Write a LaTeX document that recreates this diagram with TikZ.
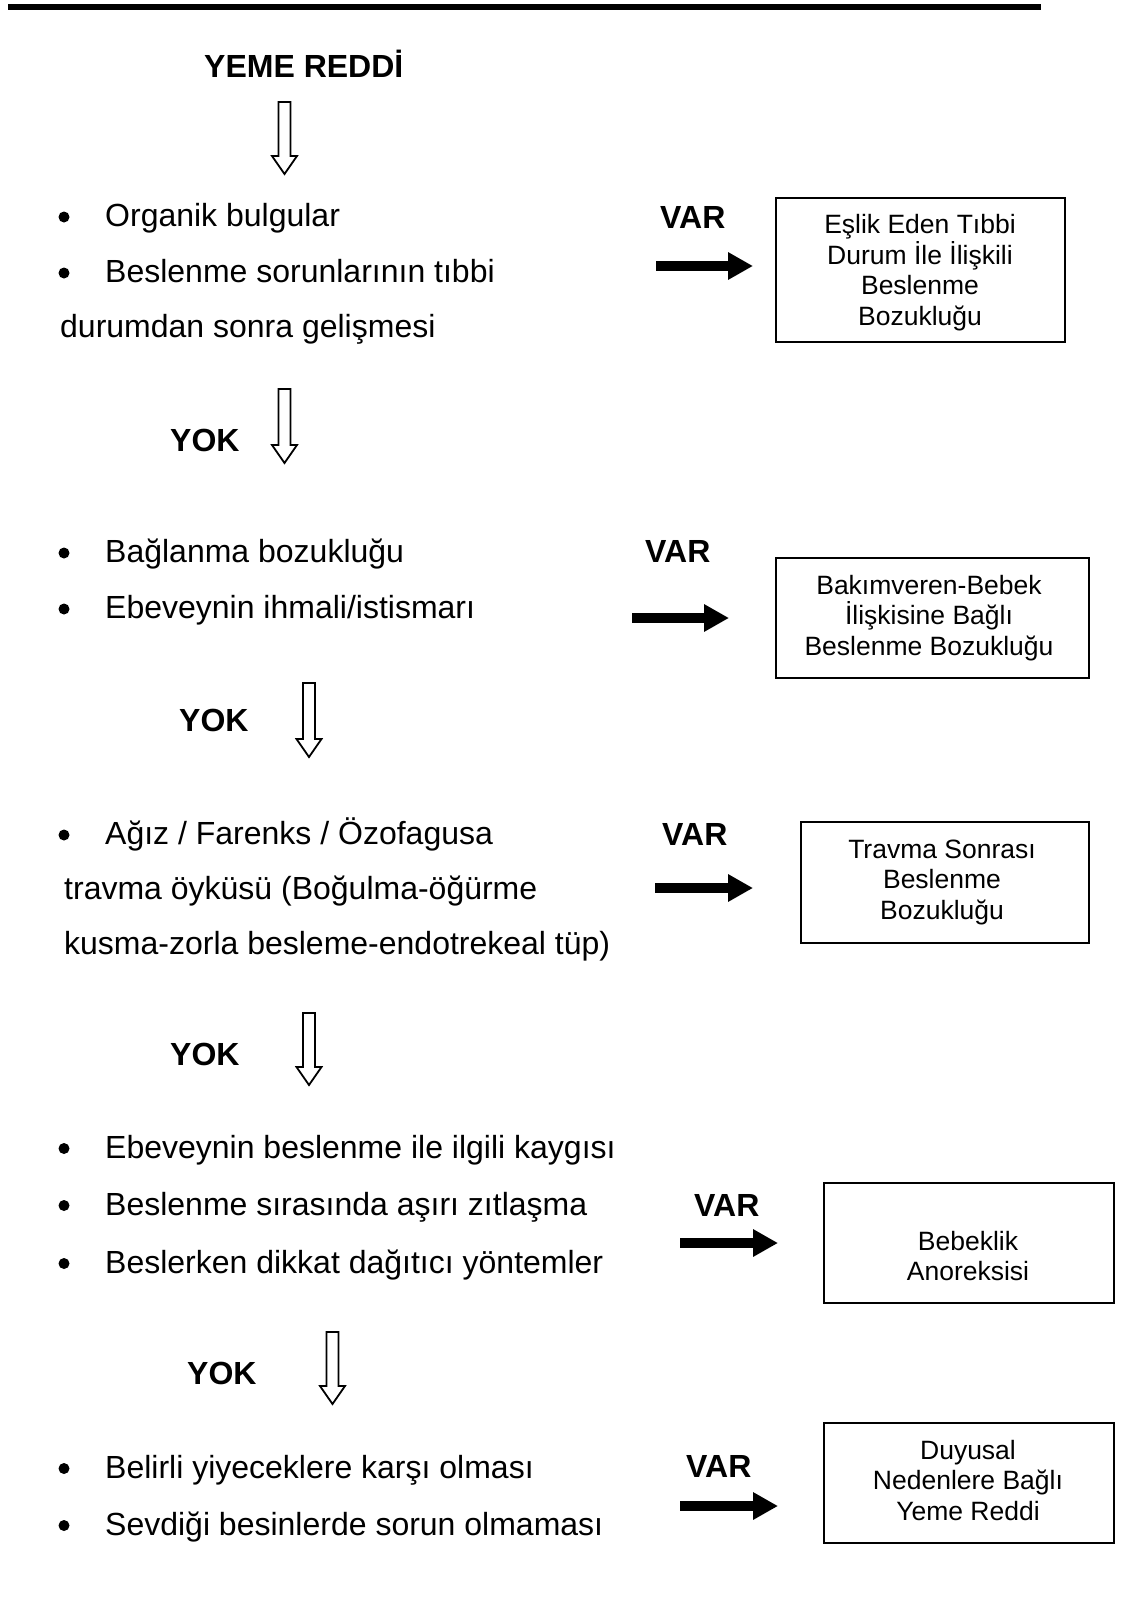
\documentclass[tikz,border=0pt]{standalone}
\usepackage{fontspec}
\setmainfont{Liberation Sans}
\usetikzlibrary{arrows.meta,calc}
\newcommand\hollowdown[4]{% name, x, ytop, ytip
  \coordinate (#1top) at (#2,#3);
  \coordinate (#1tip) at (#2,#4);
  \draw[hollow] ($(#1top)+(-6,0)$) -- ($(#1top)+(6,0)$) -- ($(#1tip)+(6,-18)$) -- ($(#1tip)+(12.5,-18)$) -- (#1tip) -- ($(#1tip)+(-12.5,-18)$) -- ($(#1tip)+(-6,-18)$) -- cycle;}
\begin{document}
\begin{tikzpicture}[x=1pt,y=-1pt,
  txt/.style={font=\fontsize{32}{38}\selectfont, anchor=base west, inner sep=0pt},
  bold/.style={font=\fontsize{32}{38}\selectfont\bfseries, anchor=base west, inner sep=0pt},
  box/.style={draw, line width=1.5pt, inner sep=0pt},
  boxtxt/.style={font=\fontsize{26.5}{30.5}\selectfont, align=center, anchor=base, inner sep=0pt},
  dot/.style={circle, fill, inner sep=0pt, minimum size=11pt},
  var/.style={line width=10pt, -{Triangle[length=25pt,width=26pt]}},
  hollow/.style={draw, line width=1.8pt, line join=miter, fill=white}]
\useasboundingbox (0,0) rectangle (1124,1615);
% top rule
\fill (8,4) rectangle (1041,10);

% title
\node[bold] (title) at (204,77) {YEME REDDİ};
\hollowdown{h1}{284.5}{102}{174}

% section 1
\node[dot] (d11) at (64,217) {};
\node[txt] (t11) at (105,226) {Organik bulgular};
\node[dot] (d12) at (64,273) {};
\node[txt] (t12) at (105,282) {Beslenme sorunlarının tıbbi};
\node[txt] (t13) at (60,337) {durumdan sonra gelişmesi};
\node[bold] (var1) at (660,228) {VAR};
\coordinate (s1) at (656,266); \coordinate (e1) at (753,266);
\draw[var] (s1) -- (e1);
\node[box, minimum width=289pt, minimum height=144pt] (b1) at (920.5,270) {};
\node[boxtxt] (b1t) at (920,325) {Eşlik Eden Tıbbi\\Durum İle İlişkili\\Beslenme\\Bozukluğu};
\node[bold] (yok1) at (170,451) {YOK};
\hollowdown{h2}{284.5}{389}{463}

% section 2
\node[dot] (d21) at (64,553) {};
\node[txt] (t21) at (105,562) {Bağlanma bozukluğu};
\node[dot] (d22) at (64,609) {};
\node[txt] (t22) at (105,618) {Ebeveynin ihmali/istismarı};
\node[bold] (var2) at (645,562) {VAR};
\coordinate (s2) at (632,618); \coordinate (e2) at (729,618);
\draw[var] (s2) -- (e2);
\node[box, minimum width=313pt, minimum height=120pt] (b2) at (932.5,618) {};
\node[boxtxt] (b2t) at (929,655) {Bakımveren-Bebek\\İlişkisine Bağlı\\Beslenme Bozukluğu};
\node[bold] (yok2) at (179,731) {YOK};
\hollowdown{h3}{309}{683}{757}

% section 3
\node[dot] (d31) at (64,835) {};
\node[txt] (t31) at (105,844) {Ağız / Farenks / Özofagusa};
\node[txt] (t32) at (64,899) {travma öyküsü (Boğulma-öğürme};
\node[txt] (t33) at (64,954) {kusma-zorla besleme-endotrekeal tüp)};
\node[bold] (var3) at (662,845) {VAR};
\coordinate (s3) at (655,888); \coordinate (e3) at (753,888);
\draw[var] (s3) -- (e3);
\node[box, minimum width=288pt, minimum height=121pt] (b3) at (945,882.5) {};
\node[boxtxt] (b3t) at (942,919) {Travma Sonrası\\Beslenme\\Bozukluğu};
\node[bold] (yok3) at (170,1065) {YOK};
\hollowdown{h4}{309}{1013}{1085}

% section 4
\node[dot] (d41) at (64,1148.5) {};
\node[txt] (t41) at (105,1158) {Ebeveynin beslenme ile ilgili kaygısı};
\node[dot] (d42) at (64,1205.5) {};
\node[txt] (t42) at (105,1215) {Beslenme sırasında aşırı zıtlaşma};
\node[dot] (d43) at (64,1263.5) {};
\node[txt] (t43) at (105,1273) {Beslerken dikkat dağıtıcı yöntemler};
\node[bold] (var4) at (694,1216) {VAR};
\coordinate (s4) at (680,1243); \coordinate (e4) at (778,1243);
\draw[var] (s4) -- (e4);
\node[box, minimum width=290pt, minimum height=120pt] (b4) at (969,1243) {};
\node[boxtxt] (b4t) at (968,1280.5) {Bebeklik\\Anoreksisi};
\node[bold] (yok4) at (187,1384) {YOK};
\hollowdown{h5}{332.5}{1332}{1404}

% section 5
\node[dot] (d51) at (64,1468.5) {};
\node[txt] (t51) at (105,1478) {Belirli yiyeceklere karşı olması};
\node[dot] (d52) at (64,1525.5) {};
\node[txt] (t52) at (105,1535) {Sevdiği besinlerde sorun olmaması};
\node[bold] (var5) at (686,1477) {VAR};
\coordinate (s5) at (680,1506); \coordinate (e5) at (778,1506);
\draw[var] (s5) -- (e5);
\node[box, minimum width=290pt, minimum height=120pt] (b5) at (969,1483) {};
\node[boxtxt] (b5t) at (968,1520) {Duyusal\\Nedenlere Bağlı\\Yeme Reddi};
\end{tikzpicture}
\end{document}
